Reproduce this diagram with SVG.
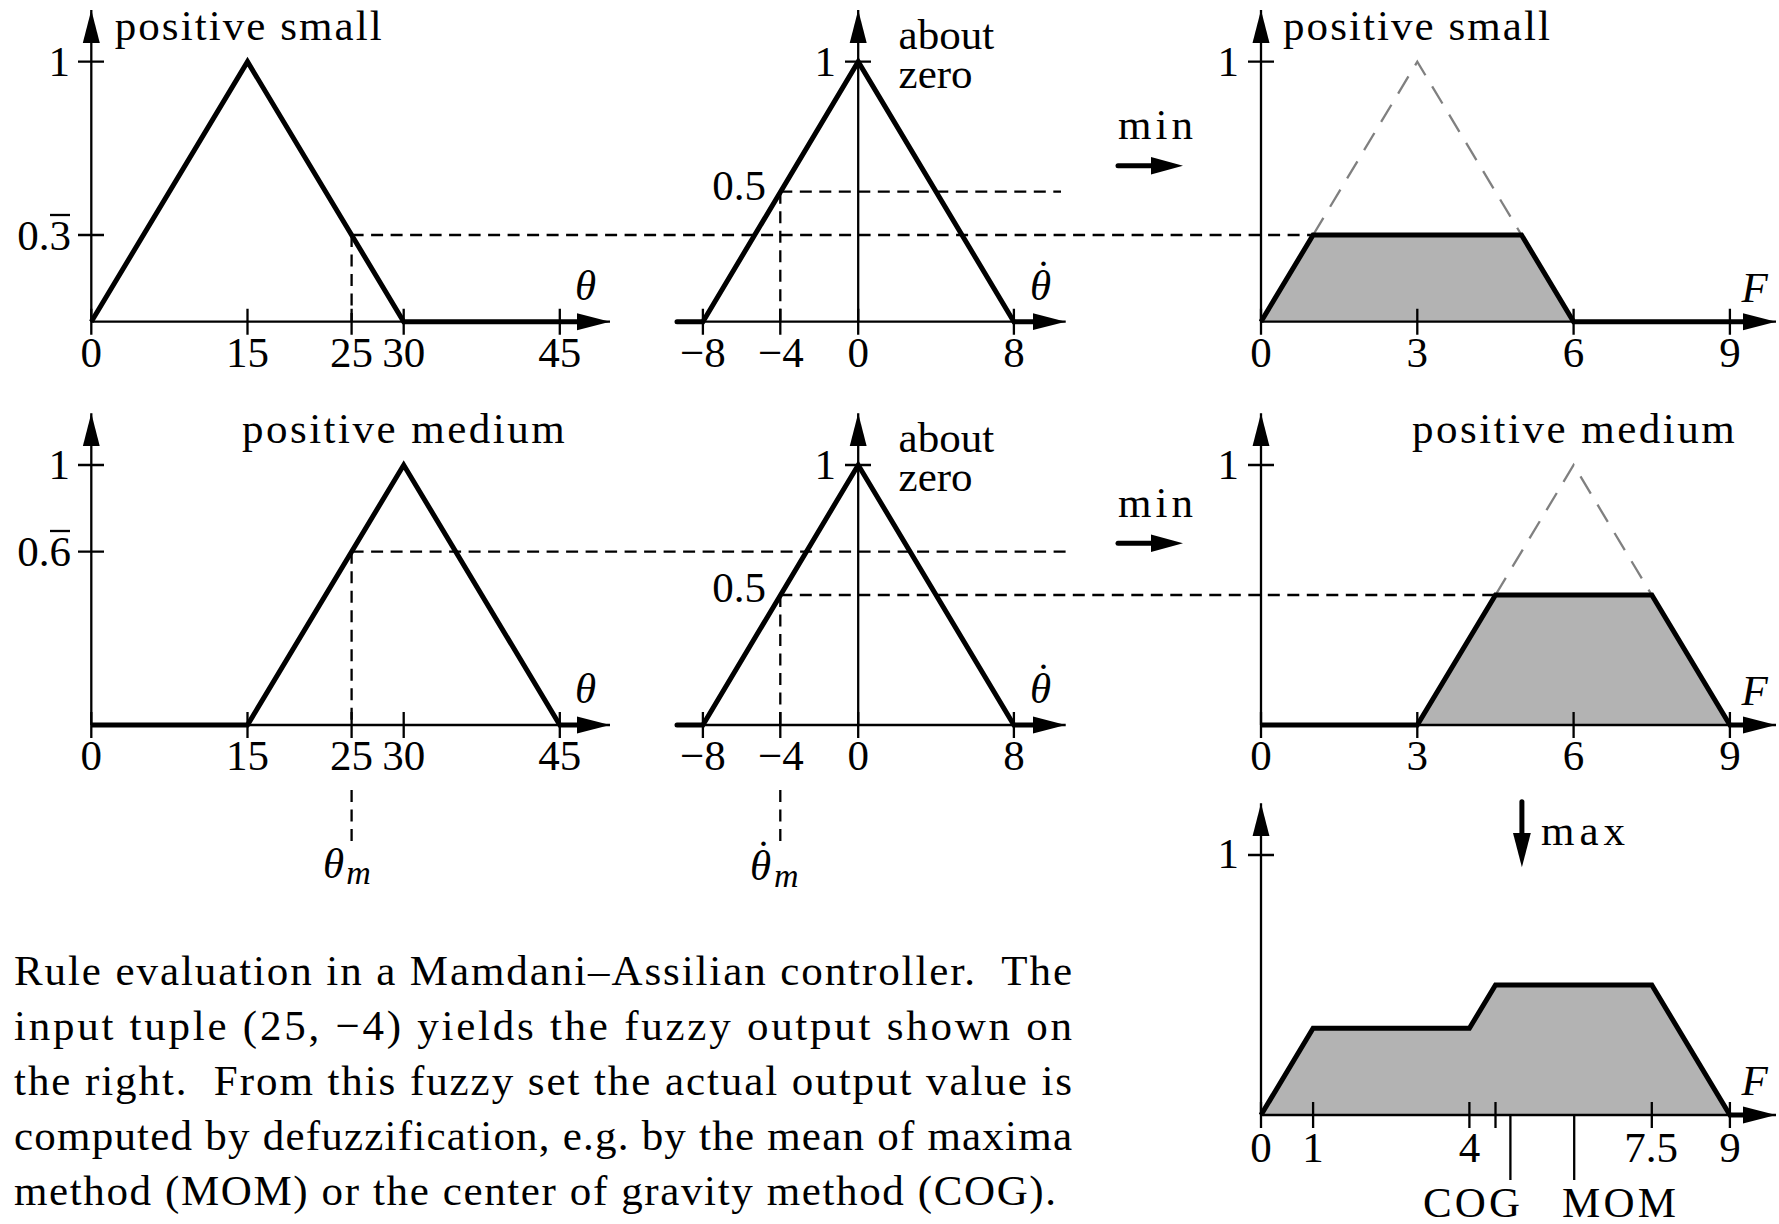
<svg xmlns="http://www.w3.org/2000/svg" width="1779" height="1224" viewBox="0 0 1779 1224">
<style>
.ax{stroke:#000;stroke-width:2.3;fill:none}
.th{stroke:#000;stroke-width:5;fill:none;stroke-linejoin:miter}
.dash{stroke:#000;stroke-width:2.3;stroke-dasharray:12 7.5;fill:none}
.gd{stroke:#808080;stroke-width:2.3;stroke-dasharray:20 13;fill:none}
.fl{fill:#b3b3b3;stroke:none}
.ar{stroke:#000;stroke-width:5;fill:none;stroke-linecap:round}
text{font-family:"Liberation Serif","Times New Roman",serif;font-size:43px;fill:#000}
.m{text-anchor:middle}
.e{text-anchor:end}
.i{font-style:italic}
.s{font-size:34px;font-style:italic}
.dt{font-style:normal}
.cap{white-space:pre}
</style>
<defs>
<marker id="ah" markerUnits="userSpaceOnUse" markerWidth="34" markerHeight="18" viewBox="0 0 34 18" refX="33" refY="9" orient="auto"><path d="M0,0.5 L33,9 L0,17.5 z" fill="#000"/></marker>
</defs>
<rect width="1779" height="1224" fill="#fff"/>

<g id="connectors">
<path class="dash" d="M351.6,235 H1313 M351.6,235 V321.7"/>
<path class="dash" d="M780.3,191.7 H1061 M780.3,191.7 V321.7"/>
<path class="dash" d="M351.6,551.7 H1072 M351.6,551.7 V725 M351.6,790 V842"/>
<path class="dash" d="M780.3,595 H1495.5 M780.3,595 V725 M780.3,790 V842"/>
<g id="min1"><path class="ar" d="M1118,165.7 H1160"/><path d="M1151,157 L1183,165.7 L1151,174.4 z"/><text x="1118" y="139" textLength="75">min</text></g>
<g id="min2"><path class="ar" d="M1118,543.3 H1160"/><path d="M1151,534.6 L1183,543.3 L1151,552 z"/><text x="1118" y="517" textLength="75">min</text></g>
<g id="max"><path class="ar" d="M1521.9,801.7 V840"/><path d="M1513,833 L1521.9,867.3 L1530.8,833 z"/><text x="1541" y="845" textLength="84">max</text></g>
</g>

<g id="p1">
<path class="ax" d="M91.3,321.7 V10" marker-end="url(#ah)"/>
<path class="ax" d="M91.3,321.7 H610" marker-end="url(#ah)"/>
<path class="ax" d="M78,61.7H104 M78,235H104 M91.3,308.7V334.7 M247.5,308.7V334.7 M351.6,308.7V334.7 M403.7,308.7V334.7 M559.8,308.7V334.7"/>
<path class="th" d="M91.3,321.7 L247.5,61.7 L403.7,321.7 L578,321.7"/>
<text x="114.7" y="40" textLength="267">positive small</text>
<text class="e" x="70" y="76">1</text>
<text class="e" x="71" y="250">0.3</text>
<path class="ax" d="M50,215 H70"/>
<text class="m" x="91.3" y="367">0</text>
<text class="m" x="247.5" y="367">15</text>
<text class="m" x="351.6" y="367">25</text>
<text class="m" x="403.7" y="367">30</text>
<text class="m" x="559.8" y="367">45</text>
<text class="i" x="575" y="300">θ</text>
</g>

<g id="p2">
<path class="ax" d="M858.2,321.7 V10" marker-end="url(#ah)"/>
<path class="ax" d="M675.4,321.7 H1065.7" marker-end="url(#ah)"/>
<path class="ax" d="M845,61.7H871 M702.9,308.7V334.7 M780.3,308.7V334.7 M858.2,308.7V334.7 M1013.9,308.7V334.7"/>
<path class="th" d="M677,321.7 L702.9,321.7 L858.2,61.7 L1013.9,321.7 L1033,321.7" stroke-linecap="round"/>
<text class="e" x="836" y="76">1</text>
<text class="e" x="766" y="200">0.5</text>
<text x="898.6" y="49.3">about</text>
<text x="898.6" y="88">zero</text>
<text class="i" x="1030" y="300">θ<tspan class="dt" dx="-15" dy="-10">˙</tspan></text>
<text class="m" x="703" y="367">−8</text>
<text class="m" x="781" y="367">−4</text>
<text class="m" x="858.2" y="367">0</text>
<text class="m" x="1013.9" y="367">8</text>
</g>

<g id="p3">
<path class="fl" d="M1261,321.7 L1313.1,235 L1521.5,235 L1573.6,321.7 Z"/>
<path class="gd" d="M1313.1,235 L1417.3,61.7 L1521.5,235"/>
<path class="ax" d="M1261,321.7 V10" marker-end="url(#ah)"/>
<path class="ax" d="M1261,321.7 H1776" marker-end="url(#ah)"/>
<path class="ax" d="M1248,61.7H1274 M1261,308.7V334.7 M1417.3,308.7V334.7 M1573.6,308.7V334.7 M1729.9,308.7V334.7"/>
<path class="th" d="M1261,321.7 L1313.1,235 L1521.5,235 L1573.6,321.7 L1743,321.7"/>
<text x="1283" y="40" textLength="267">positive small</text>
<text class="e" x="1239" y="76">1</text>
<text class="i" x="1741.5" y="302">F</text>
<text class="m" x="1261" y="367">0</text>
<text class="m" x="1417.3" y="367">3</text>
<text class="m" x="1573.6" y="367">6</text>
<text class="m" x="1729.9" y="367">9</text>
</g>

<g id="p4">
<path class="ax" d="M91.3,725 V413.3" marker-end="url(#ah)"/>
<path class="ax" d="M91.3,725 H610" marker-end="url(#ah)"/>
<path class="ax" d="M78,465H104 M78,551.7H104 M91.3,712V738 M247.5,712V738 M351.6,712V738 M403.7,712V738 M559.8,712V738"/>
<path class="th" d="M91.3,725 L247.5,725 L403.7,465 L559.8,725 L578,725"/>
<text x="242" y="443.3" textLength="322.6">positive medium</text>
<text class="e" x="70" y="479">1</text>
<text class="e" x="71" y="566">0.6</text>
<path class="ax" d="M50,531 H70"/>
<text class="m" x="91.3" y="770">0</text>
<text class="m" x="247.5" y="770">15</text>
<text class="m" x="351.6" y="770">25</text>
<text class="m" x="403.7" y="770">30</text>
<text class="m" x="559.8" y="770">45</text>
<text class="i" x="575" y="703">θ</text>
<text class="i" x="323" y="878">θ<tspan class="s" dx="2" dy="6">m</tspan></text>
</g>

<g id="p5">
<path class="ax" d="M858.2,725 V413.3" marker-end="url(#ah)"/>
<path class="ax" d="M675.4,725 H1065.7" marker-end="url(#ah)"/>
<path class="ax" d="M845,465H871 M702.9,712V738 M780.3,712V738 M858.2,712V738 M1013.9,712V738"/>
<path class="th" d="M677,725 L702.9,725 L858.2,465 L1013.9,725 L1033,725" stroke-linecap="round"/>
<text class="e" x="836" y="479">1</text>
<text class="e" x="766" y="602">0.5</text>
<text x="898.6" y="452">about</text>
<text x="898.6" y="491">zero</text>
<text class="i" x="1030" y="703">θ<tspan class="dt" dx="-15" dy="-10">˙</tspan></text>
<text class="m" x="703" y="770">−8</text>
<text class="m" x="781" y="770">−4</text>
<text class="m" x="858.2" y="770">0</text>
<text class="m" x="1013.9" y="770">8</text>
<text class="i" x="750" y="880">θ<tspan class="dt" dx="-15" dy="-10">˙</tspan><tspan class="s" x="774" dy="17">m</tspan></text>
</g>

<g id="p6">
<path class="fl" d="M1417.3,725 L1495.5,595 L1651.8,595 L1729.9,725 Z"/>
<path class="gd" d="M1495.5,595 L1573.6,465 L1651.8,595"/>
<path class="ax" d="M1261,725 V413.3" marker-end="url(#ah)"/>
<path class="ax" d="M1261,725 H1776" marker-end="url(#ah)"/>
<path class="ax" d="M1248,465H1274 M1261,712V738 M1417.3,712V738 M1573.6,712V738 M1729.9,712V738"/>
<path class="th" d="M1261,725 L1417.3,725 L1495.5,595 L1651.8,595 L1729.9,725 L1743,725"/>
<text x="1412" y="443.3" textLength="322.6">positive medium</text>
<text class="e" x="1239" y="479">1</text>
<text class="i" x="1741.5" y="705">F</text>
<text class="m" x="1261" y="770">0</text>
<text class="m" x="1417.3" y="770">3</text>
<text class="m" x="1573.6" y="770">6</text>
<text class="m" x="1729.9" y="770">9</text>
</g>

<g id="p7">
<path class="fl" d="M1261,1115 L1313.1,1028.3 L1469.4,1028.3 L1495.5,985 L1651.8,985 L1729.9,1115 Z"/>
<path class="ax" d="M1261,1115 V803.3" marker-end="url(#ah)"/>
<path class="ax" d="M1261,1115 H1776" marker-end="url(#ah)"/>
<path class="ax" d="M1248,855H1274 M1261,1102V1128 M1313.1,1102V1128 M1469.4,1102V1128 M1495.5,1102V1128 M1651.8,1102V1128 M1729.9,1102V1128"/>
<path class="ax" d="M1510.4,1115 V1180 M1574.2,1115 V1180"/>
<path class="th" d="M1261,1115 L1313.1,1028.3 L1469.4,1028.3 L1495.5,985 L1651.8,985 L1729.9,1115 L1743,1115"/>
<text class="e" x="1239" y="868">1</text>
<text class="i" x="1741.5" y="1095">F</text>
<text class="m" x="1261" y="1162">0</text>
<text class="m" x="1313.1" y="1162">1</text>
<text class="m" x="1469.5" y="1162">4</text>
<text class="m" x="1651" y="1162">7.5</text>
<text class="m" x="1729.9" y="1162">9</text>
<text class="e" x="1520" y="1217" textLength="97">COG</text>
<text x="1562" y="1217" textLength="114">MOM</text>
</g>

<g id="caption">
<text class="cap" x="14" y="985" textLength="1058" lengthAdjust="spacing">Rule evaluation in a Mamdani–Assilian controller.  The</text>
<text class="cap" x="14" y="1040" textLength="1058" lengthAdjust="spacing">input tuple (25, −4) yields the fuzzy output shown on</text>
<text class="cap" x="14" y="1095" textLength="1058" lengthAdjust="spacing">the right.  From this fuzzy set the actual output value is</text>
<text class="cap" x="14" y="1150" textLength="1058" lengthAdjust="spacing">computed by defuzzification, e.g. by the mean of maxima</text>
<text class="cap" x="14" y="1205" textLength="1042" lengthAdjust="spacing">method (MOM) or the center of gravity method (COG).</text>
</g>
</svg>
